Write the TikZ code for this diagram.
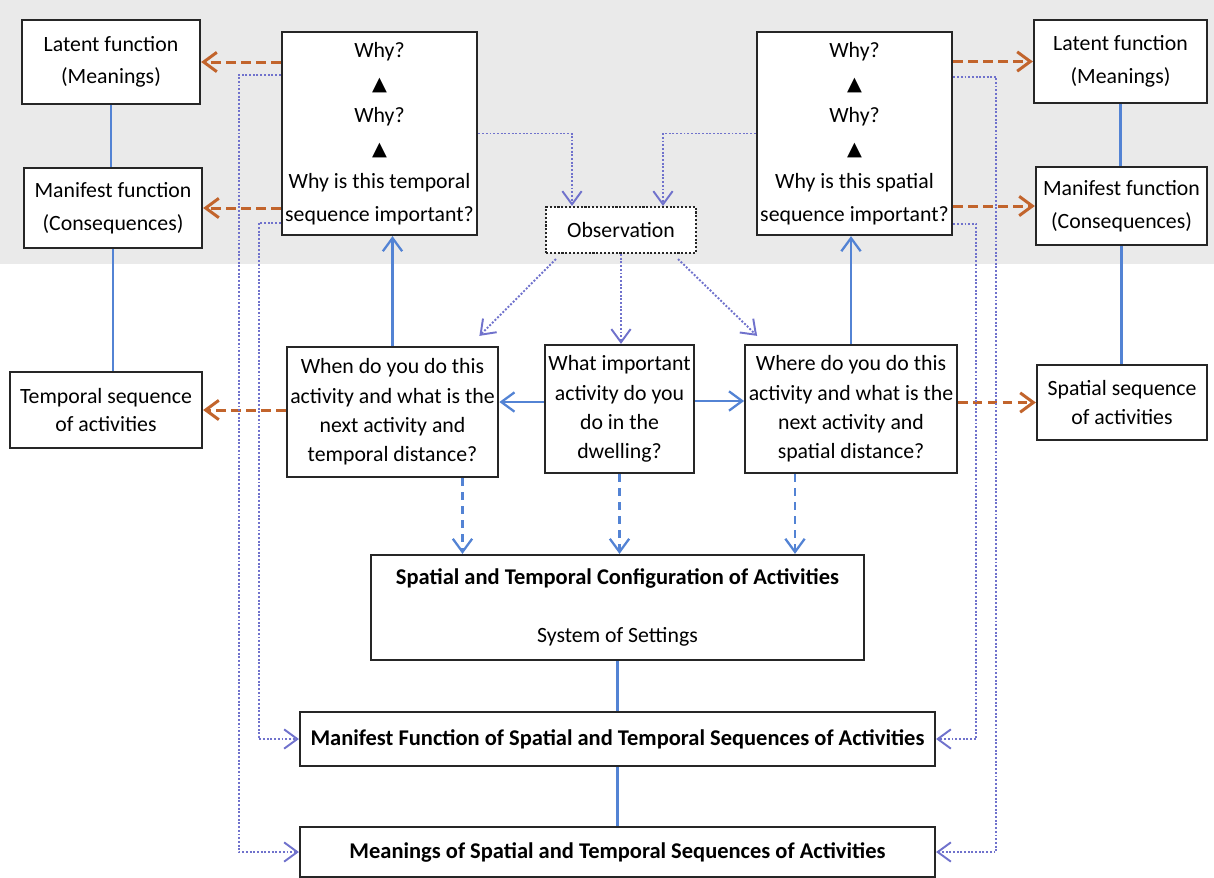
\documentclass[tikz,border=0pt]{standalone}
\usepackage{fontspec}
\setmainfont{Carlito}
\newfontfamily\symfont{DejaVu Sans}
\usetikzlibrary{arrows.meta}

\definecolor{linkblue}{RGB}{83,131,212}
\definecolor{rust}{RGB}{194,100,44}
\definecolor{dotblue}{RGB}{112,114,204}
\definecolor{band}{RGB}{234,234,234}

\newcommand{\uptri}{{\symfont\fontsize{11}{11}\selectfont ▲}}

\begin{document}
\begin{tikzpicture}[
  x=0.02cm, y=-0.02cm,
  font=\fontsize{12.4}{16.7}\selectfont,
  box/.style={draw=black!85, line width=1.3pt, fill=white, align=center, inner sep=2pt},
  sidebox/.style={box, font=\fontsize{12.4}{18.5}\selectfont},
  seqbox/.style={box, font=\fontsize{12.4}{16}\selectfont},
  whybox/.style={box, minimum width=3.7cm, minimum height=4.06cm, font=\fontsize{12.4}{18.7}\selectfont},
  askbox/.style={box, minimum height=2.56cm},
  obsbox/.style={draw=black!85, line width=1.2pt, densely dotted, fill=white, minimum width=3cm, minimum height=0.92cm},
  bigbox/.style={box, font=\bfseries\fontsize{12.8}{16}\selectfont},
  bline/.style={linkblue, line width=1.3pt},
  barr/.style={bline, -{Straight Barb[length=7.5pt,width=11pt]}},
  bdash/.style={barr, dash pattern=on 4.5pt off 3.5pt},
  orarr/.style={rust, line width=1.7pt, dash pattern=on 5.5pt off 3pt, -{Straight Barb[length=7.5pt,width=11pt]}},
  dotarr/.style={dotblue, line width=1.1pt, densely dotted, -{Straight Barb[length=7.5pt,width=11pt]}},
]

\useasboundingbox (0,0) rectangle (1214,877);
\fill[band] (0,0) rectangle (1214,264);

% ---------------------------------------------------------------
% left column: temporal side
% ---------------------------------------------------------------
\node[sidebox, minimum width=3.56cm, minimum height=1.68cm] (latL) at (111,62) {Latent function\\(Meanings)};
\node[sidebox, minimum width=3.56cm, minimum height=1.6cm] (manL) at (113,208) {Manifest function\\(Consequences)};
\node[seqbox, minimum width=3.84cm, minimum height=1.52cm] (seqT) at (106,410) {Temporal sequence\\of activities};

\node[whybox] (whyT) at (379.5,133.5) {Why?\\\uptri\\Why?\\\uptri\\Why is this temporal\\sequence important?};

% ---------------------------------------------------------------
% right column: spatial side
% ---------------------------------------------------------------
\node[sidebox, minimum width=3.46cm, minimum height=1.66cm] (latR) at (1120.5,61.5) {Latent function\\(Meanings)};
\node[sidebox, minimum width=3.42cm, minimum height=1.56cm] (manR) at (1121.5,206) {Manifest function\\(Consequences)};
\node[seqbox, minimum width=3.4cm, minimum height=1.5cm] (seqS) at (1122,402.5) {Spatial sequence\\of activities};

\node[whybox] (whyS) at (854.5,133.5) {Why?\\\uptri\\Why?\\\uptri\\Why is this spatial\\sequence important?};

% ---------------------------------------------------------------
% centre: observation and questions
% ---------------------------------------------------------------
\node[obsbox] (obs) at (621,230) {Observation};

\node[askbox, minimum width=3.98cm, minimum height=2.6cm] (whenQ) at (392.5,412) {When do you do this\\activity and what is the\\next activity and\\temporal distance?};
\node[askbox, minimum width=2.98cm] (whatQ) at (619.5,409) {What important\\activity do you\\do in the\\dwelling?};
\node[askbox, minimum width=3.96cm] (whereQ) at (851,409) {Where do you do this\\activity and what is the\\next activity and\\spatial distance?};

% ---------------------------------------------------------------
% bottom: results
% ---------------------------------------------------------------
\node[box, minimum width=9.86cm, minimum height=2.1cm] (config) at (617.5,607.5)
  {{\bfseries\fontsize{12.8}{15}\selectfont Spatial and Temporal Configuration of Activities}\\[0.56cm]System of Settings};
\node[bigbox, minimum width=12.7cm, minimum height=1.08cm] (manif) at (617.5,739)
  {Manifest Function of Spatial and Temporal Sequences of Activities};
\node[bigbox, minimum width=12.7cm, minimum height=1.0cm] (mean) at (617.5,852)
  {Meanings of Spatial and Temporal Sequences of Activities};

% solid links
\draw[bline] (latL.south) -- (latL.south |- manL.north);
\draw[bline] (manL.south) -- (manL.south |- seqT.north);
\draw[bline] (latR.south) -- (latR.south |- manR.north);
\draw[bline] (manR.south) -- (manR.south |- seqS.north);
\draw[bline] (config.south) -- (config.south |- manif.north);
\draw[bline] (manif.south) -- (manif.south |- mean.north);

% functions drawn out of the sequences
\draw[orarr] (whyT.west |- latL.east) -- (latL.east);
\draw[orarr] (whyT.west |- manL.east) -- (manL.east);
\draw[orarr] (whenQ.west |- seqT.east) -- (seqT.east);
\draw[orarr] (whyS.east |- latR.west) -- (latR.west);
\draw[orarr] (whyS.east |- manR.west) -- (manR.west);
\draw[orarr] (whereQ.east |- seqS.west) -- (seqS.west);

% questions
\draw[barr] ([yshift=0.14cm]whatQ.west) -- ([yshift=0.14cm]whatQ.west -| whenQ.east);
\draw[barr] ([yshift=0.16cm]whatQ.east) -- ([yshift=0.16cm]whatQ.east -| whereQ.west);
\draw[barr] (whenQ.north) -- (whenQ.north |- whyT.south);
\draw[barr] (whereQ.north) -- (whereQ.north |- whyS.south);

\draw[bdash] ([xshift=1.4cm]whenQ.south) -- ([xshift=1.4cm]whenQ.south |- config.north);
\draw[bdash] (whatQ.south) -- (whatQ.south |- config.north);
\draw[bdash] ([xshift=-1.12cm]whereQ.south) -- ([xshift=-1.12cm]whereQ.south |- config.north);

% observation
\draw[dotarr] (whyT.east) -| ([xshift=-0.98cm]obs.north);
\draw[dotarr] (whyS.west) -| ([xshift=0.84cm]obs.north);
\draw[dotarr] ([xshift=0.22cm,yshift=-0.1cm]obs.south west) -- ([xshift=-0.4cm,yshift=0.2cm]whenQ.north east);
\draw[dotarr] (obs.south) -- (obs.south |- whatQ.north);
\draw[dotarr] ([xshift=-0.38cm,yshift=-0.1cm]obs.south east) -- ([xshift=0.26cm,yshift=0.16cm]whereQ.north west);

% feedback to the results
\draw[dotarr] ([yshift=-0.88cm]whyT.north west) -- ++(-0.84cm,0) |- (mean.west);
\draw[dotarr] ([yshift=0.26cm]whyT.south west) -- ++(-0.44cm,0) |- (manif.west);
\draw[dotarr] ([yshift=-0.92cm]whyS.north east) -- ++(0.86cm,0) |- (mean.east);
\draw[dotarr] ([yshift=0.24cm]whyS.south east) -- ++(0.46cm,0) |- (manif.east);

\end{tikzpicture}
\end{document}
